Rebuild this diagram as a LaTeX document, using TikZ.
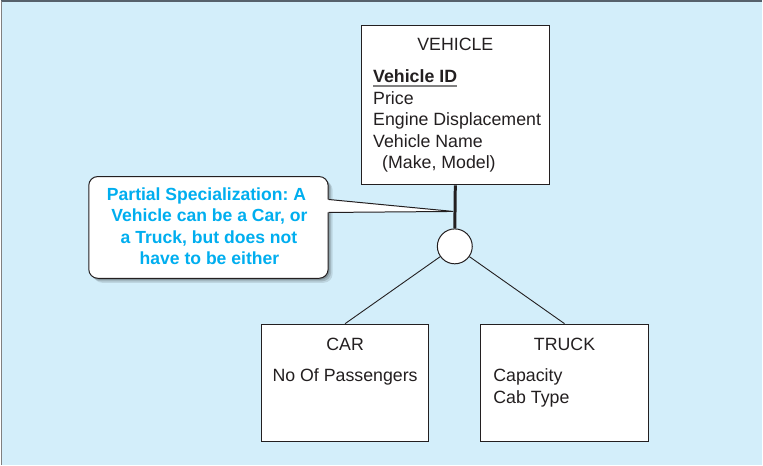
\documentclass[tikz,border=0pt]{standalone}
\usepackage{fontspec}
\setmainfont{Liberation Sans}
\usetikzlibrary{calc}
\definecolor{bg}{HTML}{D3EEFA}
\definecolor{ink}{HTML}{231F20}
\definecolor{callblue}{HTML}{00AEEF}
\definecolor{framec}{HTML}{56616B}
\definecolor{ulgrey}{HTML}{808080}
\frenchspacing
\begin{document}
\begin{tikzpicture}[x=1pt,y=-1pt,
  font=\fontsize{17.8}{21.5}\selectfont,
  box/.style={draw=ink, line width=1pt, fill=white, inner sep=0, minimum width=#1},
  txt/.style={inner sep=0, text=ink},
  ctxt/.style={inner sep=0, text=callblue, font=\fontsize{17.6}{21.5}\selectfont\bfseries, anchor=base},
  conn/.style={draw=ink, line width=0.9pt}]
% background
\fill[bg] (0,0) rectangle (763,465);
\draw[framec, line width=2pt] (0,0) -- (763,0);
\draw[ulgrey, line width=0.8pt] (0.4,0) -- (0.4,465);
\useasboundingbox (0,0) rectangle (763,465);

% entity boxes
\node[box=189pt, minimum height=160pt] (vehicle) at (455.5,104.3) {};
\node[box=168pt, minimum height=118pt] (car) at (345,383) {};
\node[box=168pt, minimum height=118pt] (truck) at (565,383) {};
\node[draw=ink, fill=white, circle, minimum size=35pt, inner sep=0, line width=1pt] (isa) at (455,246) {};

% connectors
\draw[ink, line width=3pt] (vehicle.south) -- (isa.north);
\draw[conn] (isa) -- (car.north);
\draw[conn] (isa) -- (truck.north);

% vehicle text
\node[txt, anchor=base] (vtitle) at (455.5,50) {VEHICLE};
\node[txt, anchor=base west, font=\fontsize{17.8}{21.5}\selectfont\bfseries] (vid) at (373,82) {Vehicle ID};
\draw[ulgrey, line width=2pt] ($(vid.base west)+(0,3.5)$) -- ($(vid.base east)+(0,3.5)$);
\node[txt, anchor=base west] (vprice) at (373,103.5) {Price};
\node[txt, anchor=base west] (vengine) at (373,125) {Engine Displacement};
\node[txt, anchor=base west] (vname) at (373,146.5) {Vehicle Name};
\node[txt, anchor=base west] (vmake) at (382,168) {(Make, Model)};

% car text
\node[txt, anchor=base] (ctitle) at (345,350) {CAR};
\node[txt, anchor=base] (cpass) at (345,381.7) {No Of Passengers};

% truck text
\node[txt, anchor=base] (ttitle) at (565,350) {TRUCK};
\node[txt, anchor=base west] (tcap) at (493.5,381.7) {Capacity};
\node[txt, anchor=base west] (tcab) at (493.5,403.3) {Cab Type};

% callout
\coordinate (tip) at (453.5,211);
\foreach \o/\op in {1.5/0.18,3/0.14,4.5/0.10} {
  \fill[black, opacity=\op, rounded corners=9pt] (88+\o,176+\o) rectangle (328+\o,278+\o);
}
\node[draw=ink, line width=1pt, fill=white, rounded corners=9pt, minimum width=240pt, minimum height=102pt, inner sep=0] (callout) at (208,227) {};
\fill[white] ($(callout.east)+(-1.5,-28)$) -- (tip) -- ($(callout.east)+(-1.5,-15)$) -- cycle;
\draw[ink, line width=1pt] ($(callout.east)+(0,-28)$) -- (tip) -- ($(callout.east)+(0,-15)$);

\node[ctxt] (c1) at (206,200) {Partial Specialization: A};
\node[ctxt] (c2) at (209,221.5) {Vehicle can be a Car, or};
\node[ctxt] (c3) at (208.5,243) {a Truck, but does not};
\node[ctxt] (c4) at (209,264.5) {have to be either};
\end{tikzpicture}
\end{document}
